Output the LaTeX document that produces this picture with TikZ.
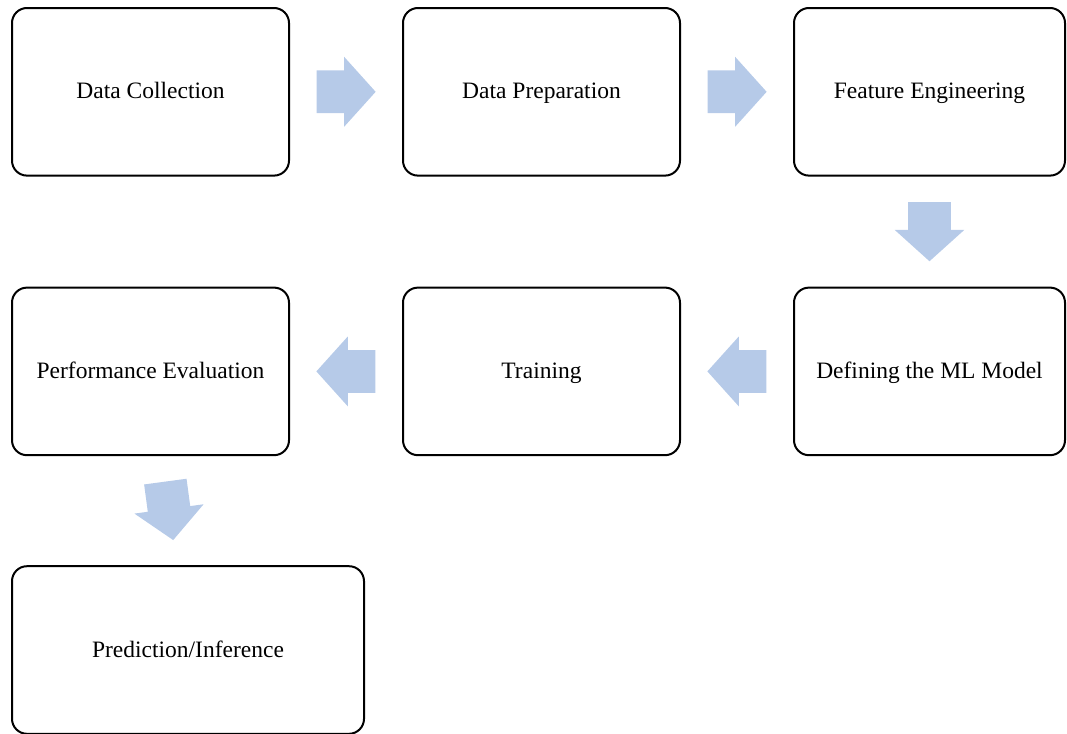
\documentclass[tikz,border=0pt]{standalone}
\usepackage{fontspec}
\setmainfont{Liberation Serif}
\usetikzlibrary{positioning,shapes.arrows}
\definecolor{FlowArrowBlue}{RGB}{182,202,232}
\newcommand{\FlowGap}{56pt}
\newcommand{\FlowBoxWidth}{138.5pt}
\newcommand{\FlowBoxHeight}{83.8pt}
\tikzset{
	flowbox/.style={draw, line width=1pt, rounded corners=7.5pt, minimum width=\FlowBoxWidth, minimum height=\FlowBoxHeight, align=center, inner sep=0pt, text height=9.5pt, text depth=2.5pt, font=\fontsize{11.75}{14}\selectfont},
	flowarrow/.style={single arrow, fill=FlowArrowBlue, draw=none, inner xsep=0pt, inner ysep=10.5pt, minimum height=29.5pt, single arrow head extend=6.75pt, single arrow tip angle=96, sloped, allow upside down, xshift=-4.75pt},
}
\begin{document}
\begin{tikzpicture}
		\useasboundingbox (0,0) rectangle (533.5pt,-367pt);
		\node[flowbox, anchor=north west] (dc) at (5.5pt,-3.5pt) {Data Collection};
		\node[flowbox, right=\FlowGap of dc] (dp) {Data Preparation};
		\node[flowbox, minimum width=135.5pt, right=\FlowGap of dp] (fe) {Feature Engineering};
		\node[flowbox, minimum width=135.5pt, below=55pt of fe] (dm) {Defining the ML Model};
		\node[flowbox, left=\FlowGap of dm] (tr) {Training};
		\node[flowbox, left=\FlowGap of tr] (pe) {Performance Evaluation};
		\node[flowbox, minimum width=176pt, below=54.5pt of pe.south west, anchor=north west] (pi) {Prediction/Inference};
		\path (dc) -- node[flowarrow] {} (dp);
		\path (dp) -- node[flowarrow] {} (fe);
		\path (fe) -- node[flowarrow] {} (dm);
		\path (dm) -- node[flowarrow] {} (tr);
		\path (tr) -- node[flowarrow] {} (pe);
		\path (pe.center) -- node[flowarrow] {} (pi.center);
	\end{tikzpicture}
\end{document}
